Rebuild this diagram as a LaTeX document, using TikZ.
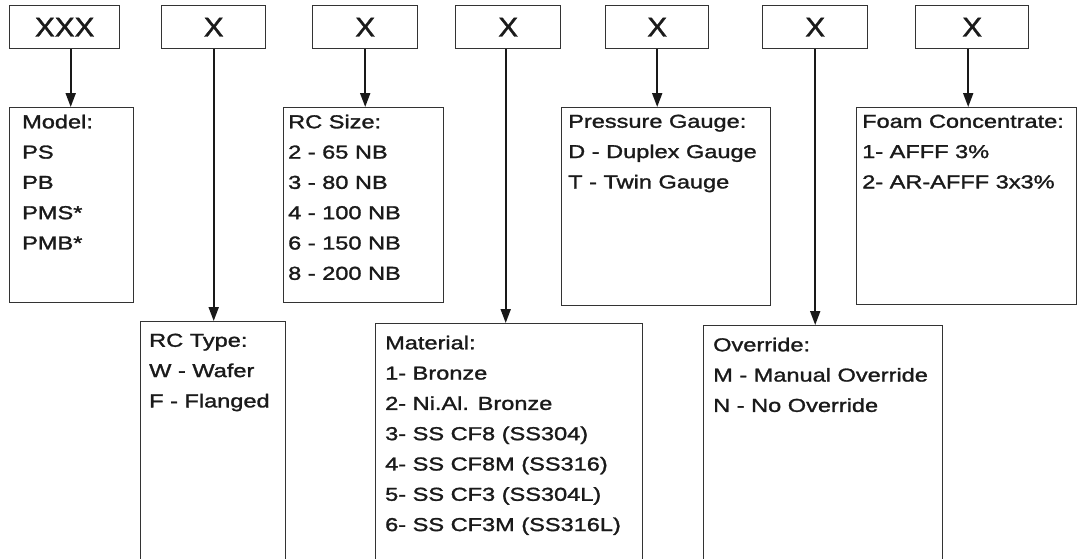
\documentclass[tikz,border=0pt]{standalone}
\usepackage{fontspec}
\usetikzlibrary{arrows.meta}
\newfontfamily\mainf[FakeStretch=1.26,FakeBold=1.5]{Liberation Sans}
\newfontfamily\bigf[FakeStretch=1.1,FakeBold=1.5]{Liberation Sans}
\definecolor{boxc}{HTML}{333333}
\definecolor{txtc}{HTML}{1A1A1A}
\tikzset{
 code/.style={draw=boxc, line width=1.4pt, inner sep=0pt, anchor=north west, minimum height=43pt,
   font=\bigf\fontsize{27}{27}\selectfont, text=txtc},
 optbox/.style={draw=boxc, line width=1.4pt, inner sep=0pt, anchor=north west},
 opttxt/.style={anchor=north west, inner sep=0pt, align=left, text=txtc,
   font=\mainf\fontsize{18.7}{30.3}\selectfont},
 arr/.style={line width=1.9pt, draw=black!90, -{Triangle[length=14pt,width=10pt]}}
}
\begin{document}
\begin{tikzpicture}[x=1pt,y=-1pt]
\useasboundingbox (0,0) rectangle (1078,558);
\clip (0,0) rectangle (1078,558);
% code boxes
\node[code, minimum width=110pt] (t1) at (9,5) {XXX};
\node[code, minimum width=104pt] (t2) at (161,5) {X};
\node[code, minimum width=105pt] (t3) at (312,5) {X};
\node[code, minimum width=105pt] (t4) at (455,5) {X};
\node[code, minimum width=103pt] (t5) at (605,5) {X};
\node[code, minimum width=105pt] (t6) at (762,5) {X};
\node[code, minimum width=113pt] (t7) at (915,5) {X};
% option boxes
\node[optbox, minimum width=124pt, minimum height=195pt] (b1) at (9,107) {};
\node[optbox, minimum width=160pt, minimum height=195pt] (b3) at (283,107) {};
\node[optbox, minimum width=209pt, minimum height=198pt] (b5) at (561,107) {};
\node[optbox, minimum width=220pt, minimum height=197pt] (b7) at (856,107) {};
\node[optbox, minimum width=145pt, minimum height=260pt] (b2) at (140,321) {};
\node[optbox, minimum width=267pt, minimum height=260pt] (b4) at (375,323) {};
\node[optbox, minimum width=239pt, minimum height=260pt] (b6) at (703,325) {};
% texts
\node[opttxt] (x1) at ([xshift=13pt,yshift=-7.5pt]b1.north west) {Model:\\PS\\PB\\PMS*\\PMB*};
\node[opttxt] (x3) at ([xshift=5pt,yshift=-7.5pt]b3.north west) {RC Size:\\2 - 65 NB\\3 - 80 NB\\4 - 100 NB\\6 - 150 NB\\8 - 200 NB};
\node[opttxt] (x5) at ([xshift=7pt,yshift=-7.5pt]b5.north west) {Pressure Gauge:\\D - Duplex Gauge\\T - Twin Gauge};
\node[opttxt] (x7) at ([xshift=6pt,yshift=-7.5pt]b7.north west) {Foam Concentrate:\\1- AFFF 3\%\\2- AR-AFFF 3x3\%};
\node[opttxt] (x2) at ([xshift=9pt,yshift=-12.5pt]b2.north west) {RC Type:\\W - Wafer\\F - Flanged};
\node[opttxt] (x4) at ([xshift=10pt,yshift=-12.5pt]b4.north west) {Material:\\1- Bronze\\2- Ni.Al. Bronze\\3- SS CF8 (SS304)\\4- SS CF8M (SS316)\\5- SS CF3 (SS304L)\\6- SS CF3M (SS316L)};
\node[opttxt] (x6) at ([xshift=10pt,yshift=-12.5pt]b6.north west) {Override:\\M - Manual Override\\N - No Override};
% arrows
\draw[arr] ([xshift=6pt]t1.south) -- ([xshift=6pt]t1.south |- b1.north);
\draw[arr] (t2.south) -- (t2.south |- b2.north);
\draw[arr] (t3.south) -- (t3.south |- b3.north);
\draw[arr] ([xshift=-2.5pt]t4.south) -- ([xshift=-2.5pt]t4.south |- b4.north);
\draw[arr] (t5.south) -- (t5.south |- b5.north);
\draw[arr] (t6.south) -- (t6.south |- b6.north);
\draw[arr] ([xshift=-4pt]t7.south) -- ([xshift=-4pt]t7.south |- b7.north);
\end{tikzpicture}
\end{document}
